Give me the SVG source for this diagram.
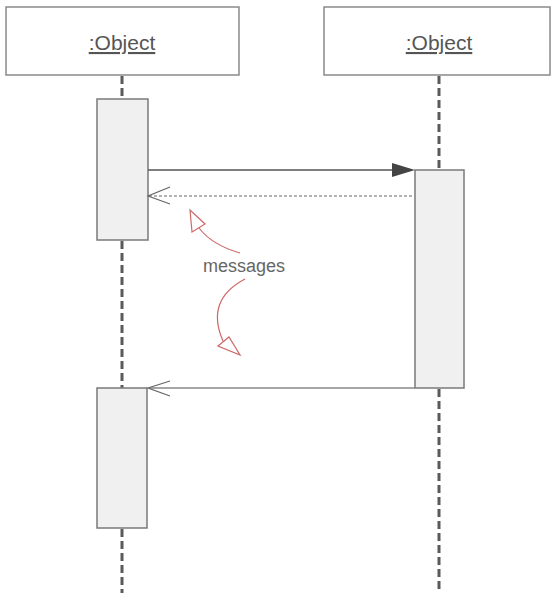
<svg xmlns="http://www.w3.org/2000/svg" width="551" height="594" viewBox="0 0 551 594">
<style>
.head{fill:#fff;stroke:#8a8a8a;stroke-width:1.5}
.lbl{font-family:"Liberation Sans",Arial,sans-serif;font-size:21px;fill:#555;text-decoration:underline}
.life{stroke:#5a5a5a;stroke-width:3;stroke-dasharray:8,4;fill:none}
.act{fill:#f0f0f0;stroke:#7a7a7a;stroke-width:1.5}
.msg{stroke:#555;stroke-width:1.5;fill:none}
.ret{stroke:#999;stroke-width:1.5;stroke-dasharray:3,2;fill:none}
.red{stroke:#cc6a6a;stroke-width:1.2;fill:none}
.note{font-family:"Liberation Sans",Arial,sans-serif;font-size:18px;fill:#666}
</style>
<rect width="551" height="594" fill="#fff"/>
<g id="connectors">
<line class="life" x1="122" y1="76" x2="122" y2="99"/>
<line class="life" x1="122" y1="241" x2="122" y2="388"/>
<line class="life" x1="122" y1="529" x2="122" y2="593"/>
<line class="life" x1="439" y1="76" x2="439" y2="170"/>
<line class="life" x1="439" y1="389" x2="439" y2="593"/>
</g>
<g id="obj1">
<rect class="head" x="6" y="7" width="233" height="68"/>
<text class="lbl" x="122" y="50" text-anchor="middle">:Object</text>
</g>
<g id="obj2">
<rect class="head" x="324" y="7" width="226" height="68"/>
<text class="lbl" x="439" y="50" text-anchor="middle">:Object</text>
</g>
<g id="act1"><rect class="act" x="97" y="99" width="51" height="141"/></g>
<g id="act2"><rect class="act" x="415" y="170" width="49" height="218"/></g>
<g id="act3"><rect class="act" x="97" y="388" width="50" height="140"/></g>
<g id="messages">
<line class="msg" x1="148" y1="170" x2="393" y2="170"/>
<polygon points="392,163 415,170 392,177" fill="#444"/>
<line class="ret" x1="149" y1="196" x2="415" y2="196"/>
<polyline class="msg" points="170,187 148,196 170,204" style="stroke:#666;stroke-width:1.2"/>
<line class="msg" x1="149" y1="388" x2="415" y2="388" style="stroke:#888"/>
<polyline class="msg" points="170,381 148,388 170,396" style="stroke:#666;stroke-width:1.2"/>
</g>
<g id="note">
<text class="note" x="244" y="272" text-anchor="middle">messages</text>
<path class="red" d="M240,253 Q212,245 199,228"/>
<polygon class="red" points="190,210 192,232 205,224" fill="#fff"/>
<path class="red" d="M245,279 Q205,300 223,341"/>
<polygon class="red" points="218,346 229,337 240,355" fill="#fff"/>
</g>
</svg>
